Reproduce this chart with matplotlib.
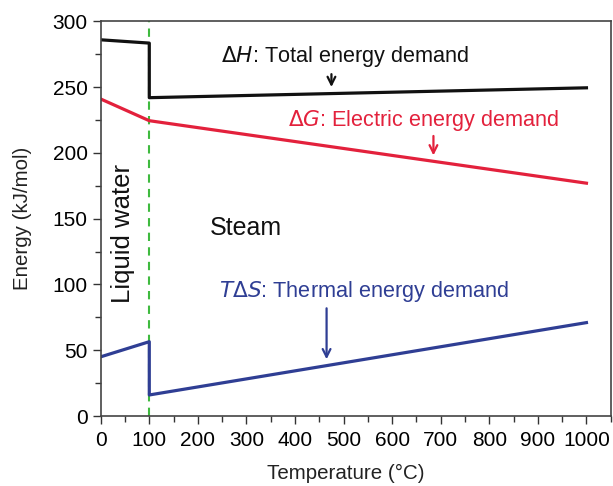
import matplotlib.pyplot as plt
from matplotlib.ticker import MultipleLocator

plt.rcParams['font.family'] = ['Liberation Sans', 'DejaVu Sans']

# values (kJ/mol); the step at 100 °C is the phase change
temp_h = [0, 100, 100, 1000]
dH = [286, 283.5, 242, 249.5]

temp_g = [0, 100, 1000]
dG = [241, 224.5, 177]

temp_s = [0, 100, 100, 1000]
TdS = [45, 56.5, 16, 71]

black = '#111111'
red = '#e3213c'
blue = '#2f3e94'
green = '#3fba3f'

fig = plt.figure(figsize=(6.13, 4.86), dpi=100)
ax = fig.add_axes([0.1643, 0.144, 0.832, 0.812])

ax.axvline(100, color=green, linestyle=(0, (4, 3)), linewidth=1.5)
ax.plot(temp_h, dH, color=black, linewidth=2.3)
ax.plot(temp_g, dG, color=red, linewidth=2.3)
ax.plot(temp_s, TdS, color=blue, linewidth=2.3)

ax.set_xlim(0, 1050)
ax.set_ylim(0, 300)
ax.xaxis.set_major_locator(MultipleLocator(100))
ax.xaxis.set_minor_locator(MultipleLocator(50))
ax.yaxis.set_major_locator(MultipleLocator(50))
ax.yaxis.set_minor_locator(MultipleLocator(25))
ax.tick_params(which='major', length=6, width=1, labelsize=15, color='#333333')
ax.tick_params(which='minor', length=4, width=1, color='#333333')
ax.tick_params(axis='x', pad=5)
for sp in ax.spines.values():
    sp.set_color('#444444')
    sp.set_linewidth(1.2)

ax.set_xlabel('Temperature (°C)', fontsize=14.8, color='#222222')
ax.set_ylabel('Energy (kJ/mol)', fontsize=14.8, color='#222222')
ax.xaxis.set_label_coords(0.481, -0.122)
ax.yaxis.set_label_coords(-0.135, 0.5)

# labels and arrows
arr = dict(arrowstyle='->', lw=1.6, mutation_scale=14)
ax.text(248, 273, r'$\Delta\mathit{H}$: Total energy demand', fontsize=15.6,
        color=black, va='center')
ax.annotate('', xy=(475, 248), xytext=(475, 262),
            arrowprops=dict(arr, color=black))

ax.text(385, 225, r'$\Delta\mathit{G}$: Electric energy demand', fontsize=15.6,
        color=red, va='center')
ax.annotate('', xy=(685, 196), xytext=(685, 215),
            arrowprops=dict(arr, color=red))

ax.text(243, 95, r'$\mathit{T}\Delta\mathit{S}$: Thermal energy demand', fontsize=15.6,
        color=blue, va='center')
ax.annotate('', xy=(465, 41), xytext=(465, 84),
            arrowprops=dict(arr, color=blue))

ax.text(224, 143, 'Steam', fontsize=18, color=black, va='center')
ax.text(45, 139, 'Liquid water', fontsize=18.5, color=black, va='center',
        ha='center', rotation=90)

fig.savefig('out.png', dpi=100)
